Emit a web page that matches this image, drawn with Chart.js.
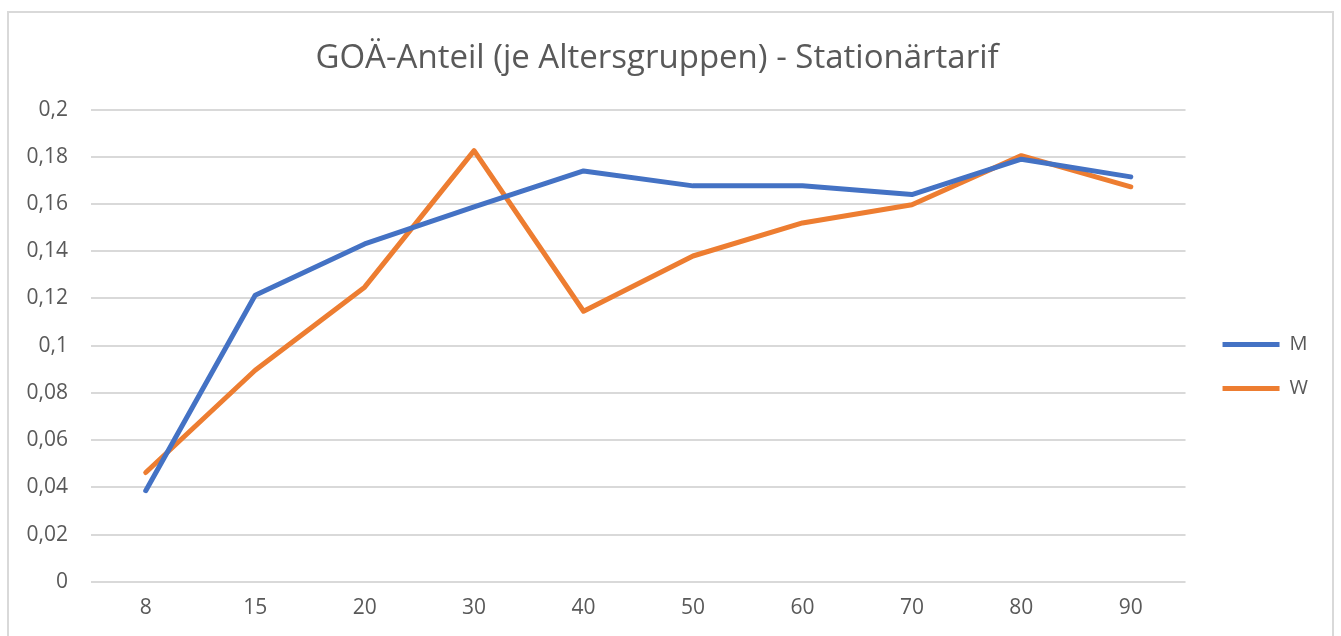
<!DOCTYPE html>
<html>
<head>
<meta charset="utf-8">
<script src="https://cdn.jsdelivr.net/npm/chart.js@4"></script>
<style>
  body { margin: 0; background: #fff; }
  #frame { position: absolute; left: 7px; top: 11px; width: 1323px; height: 640px; border: 2px solid #d9d9d9; }
  #wrap { position: absolute; left: 0; top: 0; width: 1323px; height: 640px; }
</style>
</head>
<body>
<div id="frame"><div id="wrap"><canvas id="myChart"></canvas></div></div>
<script>
const ages = ['8', '15', '20', '30', '40', '50', '60', '70', '80', '90'];
const valuesM = [0.0386, 0.1214, 0.1431, 0.1588, 0.1740, 0.1677, 0.1677, 0.1640, 0.1790, 0.1715];
const valuesW = [0.0463, 0.0896, 0.1248, 0.1826, 0.1146, 0.1380, 0.1520, 0.1597, 0.1805, 0.1673];

const grey = '#595959';
const font = "'Open Sans', 'Noto Sans', sans-serif";

// nudge the legend away from the plot area and down a bit
const legendShift = {
    id: 'legendShift',
    afterLayout(chart) {
        const lg = chart.legend;
        if (lg) {
            lg.left += 13;
            lg.right += 13;
            lg.top += 37;
            lg.bottom += 37;
        }
    }
};

const ctx = document.getElementById('myChart');

new Chart(ctx, {
    type: 'line',
    data: {
        labels: ages,
        datasets: [{
            label: 'M',
            data: valuesM,
            borderColor: '#4472C4',
            backgroundColor: '#4472C4',
            borderWidth: 5,
            pointRadius: 0,
            borderCapStyle: 'round',
            borderJoinStyle: 'round',
            tension: 0
        }, {
            label: 'W',
            data: valuesW,
            borderColor: '#ED7D31',
            backgroundColor: '#ED7D31',
            borderWidth: 5,
            pointRadius: 0,
            borderCapStyle: 'round',
            borderJoinStyle: 'round',
            tension: 0
        }]
    },
    plugins: [legendShift],
    options: {
        responsive: true,
        maintainAspectRatio: false,
        animation: false,
        layout: { padding: { left: 0, right: 27, top: 19, bottom: 26 } },
        plugins: {
            title: {
                display: true,
                text: 'GOÄ-Anteil (je Altersgruppen) - Stationärtarif',
                color: grey,
                font: { family: font, size: 33, weight: 'normal' },
                padding: { top: 7, bottom: 31 }
            },
            legend: {
                position: 'right',
                labels: {
                    color: grey,
                    font: { family: font, size: 20 },
                    usePointStyle: true,
                    pointStyle: 'line',
                    pointStyleWidth: 57,
                    boxWidth: 57,
                    padding: 24
                }
            },
            tooltip: { enabled: false }
        },
        scales: {
            x: {
                offset: true,
                grid: { display: false },
                border: { display: false },
                ticks: { color: grey, font: { family: font, size: 21 }, padding: 6 }
            },
            y: {
                min: 0,
                max: 0.2,
                grid: { color: '#d9d9d9', lineWidth: 2, drawTicks: false },
                border: { display: false },
                afterFit: function (scale) { scale.width = 82; },
                ticks: {
                    stepSize: 0.02,
                    color: grey,
                    padding: 23,
                    font: { family: font, size: 21 },
                    callback: function (v) {
                        return String(Math.round(v * 100) / 100).replace('.', ',');
                    }
                }
            }
        }
    }
});
</script>
</body>
</html>
